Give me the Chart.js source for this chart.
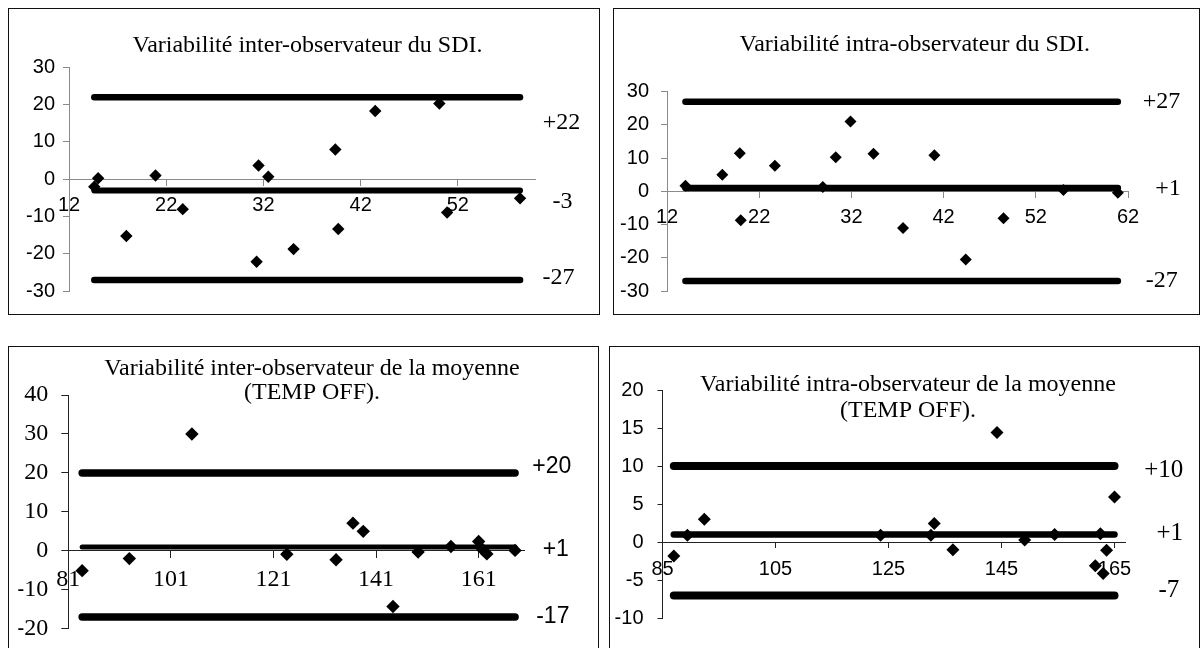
<!DOCTYPE html>
<html lang="fr">
<head>
<meta charset="utf-8">
<title>Variabilité inter / intra-observateur</title>
<script src="https://cdn.jsdelivr.net/npm/chart.js@4.4.1/dist/chart.umd.min.js"></script>
<style>
    html, body { margin: 0; padding: 0; background: #fff; }
    body { position: relative; width: 1200px; height: 648px; overflow: hidden; }
    .panel { position: absolute; box-sizing: border-box; border: 1.5px solid #111; }
    canvas { position: absolute; }
</style>
</head>
<body>
<div class="panel" id="boxSdiInter"></div>
<div class="panel" id="boxSdiIntra"></div>
<div class="panel" id="boxMoyInter"></div>
<div class="panel" id="boxMoyIntra"></div>
<canvas id="sdiInterChart"></canvas>
<canvas id="sdiIntraChart"></canvas>
<canvas id="moyInterChart"></canvas>
<canvas id="moyIntraChart"></canvas>
<script>
// SDI, inter-observateur : moyenne (x) / différence (y)
const sdiInterMeans = [15.0, 14.6, 20.9, 23.7, 17.9, 31.5, 32.5, 31.3, 35.1, 39.4, 39.7, 43.5, 50.1, 50.9, 58.4];
const sdiInterDiffs = [0.3, -2.0, 1.0, -8.0, -15.2, 3.7, 0.7, -22.1, -18.7, 8.0, -13.3, 18.3, 20.3, -8.9, -5.1];
const sdiInterLimits = [22, -3, -27];
const sdiInterXTicks = [12, 22, 32, 42, 52];
const sdiInterXMax = 60;
const sdiInterYTicks = [-30, -20, -10, 0, 10, 20, 30];

// SDI, intra-observateur
const sdiIntraMeans = [14.0, 18.0, 19.9, 20.0, 23.7, 28.9, 30.3, 31.9, 34.4, 37.6, 41.0, 44.4, 48.5, 55.0, 60.9];
const sdiIntraDiffs = [1.7, 5.0, 11.5, -8.7, 7.7, 1.3, 10.3, 21.0, 11.3, -11.0, 10.9, -20.5, -8.1, 0.4, -0.4];
const sdiIntraLimits = [27, 1, -27];
const sdiIntraXTicks = [12, 22, 32, 42, 52, 62];
const sdiIntraXMax = 62;
const sdiIntraYTicks = [-30, -20, -10, 0, 10, 20, 30];

// moyenne (TEMP OFF), inter-observateur
const moyInterMeans = [83.7, 92.9, 105.1, 123.6, 133.2, 136.5, 138.5, 144.3, 149.2, 155.6, 161.0, 161.8, 162.6, 168.1];
const moyInterDiffs = [-5.1, -2.0, 30.0, -0.9, -2.3, 7.1, 5.0, -14.3, -0.3, 1.1, 2.4, 0.3, -0.8, 0.1];
const moyInterLimits = [20, 1, -17];
const moyInterXTicks = [81, 101, 121, 141, 161];
const moyInterXMax = 170;
const moyInterYTicks = [-20, -10, 0, 10, 20, 30, 40];

// moyenne (TEMP OFF), intra-observateur
const moyIntraMeans = [87.0, 89.4, 92.4, 123.6, 132.5, 133.1, 136.4, 144.2, 149.1, 154.4, 162.5, 161.6, 163.0, 163.6, 165.0];
const moyIntraDiffs = [-1.8, 0.9, 3.0, 0.9, 0.9, 2.45, -1.0, 14.4, 0.3, 1.0, 1.1, -3.1, -4.1, -1.05, 5.95];
const moyIntraLimits = [10, 1, -7];
const moyIntraXTicks = [85, 105, 125, 145, 165];
const moyIntraXMax = 167;
const moyIntraYTicks = [-10, -5, 0, 5, 10, 15, 20];

const SANS = "'Liberation Sans', Arial, sans-serif";
const SERIF = "'Liberation Serif', 'Times New Roman', serif";

// titre + valeurs des limites écrites à droite des lignes
const panelText = {
    id: "panelText",
    afterDraw(chart, args, opts) {
        let ctx = chart.ctx;
        let area = chart.chartArea;
        let yScale = chart.scales.y;
        ctx.save();
        ctx.fillStyle = "#000";
        ctx.font = opts.titleFont;
        ctx.textAlign = "center";
        ctx.textBaseline = "alphabetic";
        opts.title.forEach((line, i) => ctx.fillText(line, opts.titleX, opts.titleY[i]));

        ctx.font = opts.limitFont;
        ctx.textBaseline = "middle";
        opts.limits.forEach((v, i) => {
            let txt = v > 0 ? "+" + v : String(v);
            ctx.fillText(txt, area.right + opts.limitDx[i], yScale.getPixelForValue(v) + opts.limitDy[i]);
        });
        ctx.restore();
    },
};

function drawPanel(p) {
    let [bx, by, bw, bh] = p.box;
    let box = document.getElementById(p.boxId);
    box.style.left = bx + "px";
    box.style.top = by + "px";
    box.style.width = bw + "px";
    box.style.height = bh + "px";

    let canvas = document.getElementById(p.id);
    canvas.width = bw;
    canvas.height = bh;
    canvas.style.left = bx + "px";
    canvas.style.top = by + "px";

    // zone de tracé voulue, en coordonnées de page
    let [left, top, right, bottom] = p.area;
    let yAxisWidth = 50;

    let xLo = Math.min(...p.means);
    let xHi = Math.max(...p.means);

    let limitSets = p.limits.map((v, i) => ({
        data: [{ x: xLo, y: v }, { x: xHi, y: v }],
        showLine: true,
        borderColor: "#000",
        borderWidth: p.lineWidths[i],
        borderCapStyle: "round",
        pointRadius: 0,
        order: 1,
    }));

    let pointSet = {
        data: p.means.map((m, i) => ({ x: m, y: p.diffs[i] })),
        pointStyle: "rectRot",
        pointRadius: p.pointRadius,
        backgroundColor: "#000",
        borderWidth: 0,
        showLine: false,
        order: 2,
    };

    let tickFont = { family: p.tickFamily, size: p.tickSize };

    return new Chart(canvas.getContext("2d"), {
        type: "scatter",
        data: { datasets: [pointSet].concat(limitSets) },
        plugins: [panelText],
        options: {
            responsive: false,
            animation: false,
            events: [],
            clip: false,
            layout: {
                padding: {
                    left: left - bx - yAxisWidth,
                    top: top - by,
                    right: bx + bw - right,
                    bottom: by + bh - bottom,
                },
            },
            scales: {
                x: {
                    type: "linear",
                    position: { y: 0 },
                    min: p.xTicks[0],
                    max: p.xMax,
                    afterBuildTicks: (scale) => {
                        scale.ticks = p.xTicks.map((v) => ({ value: v }));
                    },
                    ticks: {
                        autoSkip: false,
                        maxRotation: 0,
                        minRotation: 0,
                        color: "#000",
                        font: tickFont,
                        padding: p.xPad,
                    },
                    grid: { drawOnChartArea: false, tickLength: p.tickLen, color: p.axisColor },
                    border: { color: p.axisColor, width: 1 },
                },
                y: {
                    type: "linear",
                    position: "left",
                    min: p.yTicks[0],
                    max: p.yTicks[p.yTicks.length - 1],
                    afterBuildTicks: (scale) => {
                        scale.ticks = p.yTicks.map((v) => ({ value: v }));
                    },
                    afterFit: (scale) => {
                        scale.width = yAxisWidth;
                    },
                    ticks: { color: "#000", font: tickFont, padding: p.yPad },
                    grid: { drawOnChartArea: false, tickLength: p.tickLen, color: p.axisColor },
                    border: { color: p.axisColor, width: 1 },
                },
            },
            plugins: {
                legend: { display: false },
                tooltip: { enabled: false },
                panelText: {
                    title: p.title,
                    titleFont: "24px " + SERIF,
                    titleX: p.titleX - bx,
                    titleY: p.titleY.map((t) => t - by),
                    limits: p.limits,
                    limitFont: p.limitFont,
                    limitDx: p.limitDx,
                    limitDy: p.limitDy,
                },
            },
        },
    });
}

drawPanel({
    id: "sdiInterChart", boxId: "boxSdiInter",
    box: [8, 8, 592, 307], area: [69, 67.3, 535.6, 291.3],
    means: sdiInterMeans, diffs: sdiInterDiffs, limits: sdiInterLimits,
    xTicks: sdiInterXTicks, xMax: sdiInterXMax, yTicks: sdiInterYTicks,
    title: ["Variabilité inter-observateur du SDI."], titleX: 307.5, titleY: [52],
    tickFamily: SANS, tickSize: 20, tickLen: 6, xPad: 8.5, yPad: 8,
    axisColor: "#8a8a8a", pointRadius: 6.2, lineWidths: [6.5, 6, 6.5],
    limitFont: "24px " + SERIF, limitDx: [26, 27, 23], limitDy: [26, 11, -2],
});

drawPanel({
    id: "sdiIntraChart", boxId: "boxSdiIntra",
    box: [613, 8, 587, 307], area: [667, 91.7, 1128, 291.7],
    means: sdiIntraMeans, diffs: sdiIntraDiffs, limits: sdiIntraLimits,
    xTicks: sdiIntraXTicks, xMax: sdiIntraXMax, yTicks: sdiIntraYTicks,
    title: ["Variabilité intra-observateur du SDI."], titleX: 914.8, titleY: [51],
    tickFamily: SANS, tickSize: 20, tickLen: 6, xPad: 8.5, yPad: 12,
    axisColor: "#8a8a8a", pointRadius: 6, lineWidths: [6.5, 6.5, 6.5],
    limitFont: "24px " + SERIF, limitDx: [33.5, 40, 33.7], limitDy: [0, 1, 0],
});

drawPanel({
    id: "moyInterChart", boxId: "boxMoyInter",
    box: [8, 346, 591, 320], area: [68.3, 395, 524.8, 628.7],
    means: moyInterMeans, diffs: moyInterDiffs, limits: moyInterLimits,
    xTicks: moyInterXTicks, xMax: moyInterXMax, yTicks: moyInterYTicks,
    title: ["Variabilité inter-observateur de la moyenne", "(TEMP OFF)."], titleX: 312, titleY: [375, 399],
    tickFamily: SERIF, tickSize: 24, tickLen: 7, xPad: 7.5, yPad: 13,
    axisColor: "#222", pointRadius: 6.7, lineWidths: [7.5, 5, 7.5],
    limitFont: "23px " + SANS, limitDx: [27, 31, 28], limitDy: [-6, 3, 0],
});

drawPanel({
    id: "moyIntraChart", boxId: "boxMoyIntra",
    box: [609, 346, 591, 320], area: [662.5, 390, 1125.8, 618.3],
    means: moyIntraMeans, diffs: moyIntraDiffs, limits: moyIntraLimits,
    xTicks: moyIntraXTicks, xMax: moyIntraXMax, yTicks: moyIntraYTicks,
    title: ["Variabilité intra-observateur de la moyenne", "(TEMP OFF)."], titleX: 908, titleY: [391, 417],
    tickFamily: SANS, tickSize: 20, tickLen: 5, xPad: 10, yPad: 14,
    axisColor: "#222", pointRadius: 6.5, lineWidths: [8, 6.5, 8],
    limitFont: "25px " + SERIF, limitDx: [38, 44, 43], limitDy: [4, -1, -5],
});
</script>
</body>
</html>
